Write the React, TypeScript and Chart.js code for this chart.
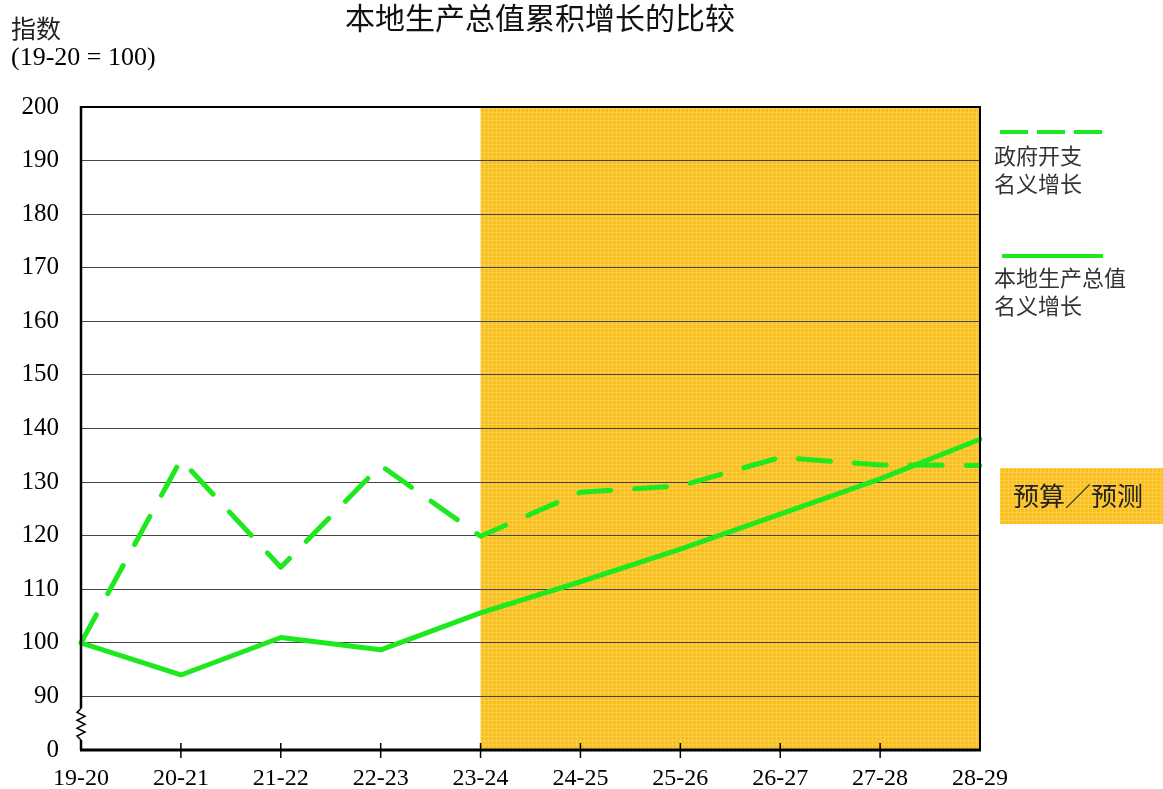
import React, { useEffect, useRef } from "react";
import { Chart, registerables } from "chart.js";

Chart.register(...registerables);

const categories = ["19-20", "20-21", "21-22", "22-23", "23-24", "24-25", "25-26", "26-27", "27-28", "28-29"];
const govSpending = [100, 134.2, 114.1, 133.1, 119.9, 128.1, 129.3, 134.6, 133.2, 133.1];
const gdpGrowth = [100, 94.0, 101.0, 98.7, 105.6, 111.4, 117.5, 124.0, 130.6, 138.0];
const yTicks = [80, 90, 100, 110, 120, 130, 140, 150, 160, 170, 180, 190, 200];
const forecastStartIndex = 4;

const GREEN = "#1ee81e";
const SERIF = "'Liberation Serif', 'Times New Roman', serif";
const CJK = "'Noto Sans CJK SC', 'Noto Sans', sans-serif";

function makePattern(ctx: CanvasRenderingContext2D) {
  const c = document.createElement("canvas");
  c.width = 4;
  c.height = 4;
  const p = c.getContext("2d")!;
  p.fillStyle = "#f8bf22";
  p.fillRect(0, 0, 4, 4);
  p.fillStyle = "rgba(255,214,90,0.6)";
  p.fillRect(0, 0, 4, 1);
  p.fillRect(0, 0, 1, 4);
  return ctx.createPattern(c, "repeat") || "#f9c535";
}

const decorPlugin = {
  id: "decor",
  beforeDraw(chart: any) {
    const { ctx, chartArea } = chart;
    const x = chart.scales.x;
    const x0 = x.getPixelForValue(forecastStartIndex);
    ctx.save();
    ctx.fillStyle = makePattern(ctx);
    ctx.fillRect(x0, chartArea.top, chartArea.right - x0, chartArea.bottom - chartArea.top);
    ctx.restore();
  },
  afterDraw(chart: any) {
    const { ctx, chartArea } = chart;
    const { left, right, top, bottom } = chartArea;
    const xs = chart.scales.x;
    const ys = chart.scales.y;
    ctx.save();
    ctx.strokeStyle = "#000";
    ctx.lineCap = "butt";
    ctx.lineWidth = 2;
    ctx.beginPath();
    ctx.moveTo(left, top);
    ctx.lineTo(right, top);
    ctx.lineTo(right, bottom);
    ctx.stroke();
    ctx.lineWidth = 3;
    ctx.beginPath();
    ctx.moveTo(left - 1, bottom);
    ctx.lineTo(right + 1, bottom);
    ctx.stroke();
    const y90 = ys.getPixelForValue(90);
    const zTop = y90 + 12;
    const zBot = bottom - 10;
    ctx.lineWidth = 2.5;
    ctx.beginPath();
    ctx.moveTo(left, top - 1);
    ctx.lineTo(left, zTop);
    ctx.stroke();
    ctx.lineWidth = 1.5;
    ctx.beginPath();
    ctx.moveTo(left, zTop);
    const n = 8;
    for (let i = 1; i <= n; i++) {
      const yy = zTop + ((zBot - zTop) * i) / n;
      const xx = i === n ? left : i % 2 === 1 ? left - 4 : left + 4;
      ctx.lineTo(xx, yy);
    }
    ctx.stroke();
    ctx.lineWidth = 2.5;
    ctx.beginPath();
    ctx.moveTo(left, zBot);
    ctx.lineTo(left, bottom);
    ctx.stroke();
    ctx.lineWidth = 1.5;
    for (let i = 1; i < categories.length - 1; i++) {
      const px = xs.getPixelForValue(i);
      ctx.beginPath();
      ctx.moveTo(px, bottom - 7);
      ctx.lineTo(px, bottom + 8);
      ctx.stroke();
    }

    ctx.fillStyle = "#111";
    ctx.textBaseline = "middle";
    ctx.textAlign = "center";
    ctx.font = `30px ${CJK}`;
    ctx.fillText("本地生产总值累积增长的比较", 540, 18);

    ctx.textAlign = "left";
    ctx.fillStyle = "#222";
    ctx.font = `25px ${CJK}`;
    ctx.fillText("指数", 11, 28);
    ctx.fillStyle = "#000";
    ctx.font = `26px ${SERIF}`;
    ctx.fillText("(19-20 = 100)", 11, 58);

    ctx.strokeStyle = GREEN;
    ctx.lineWidth = 4;
    ctx.setLineDash([28, 9]);
    ctx.beginPath();
    ctx.moveTo(1000, 132);
    ctx.lineTo(1103, 132);
    ctx.stroke();
    ctx.setLineDash([]);
    ctx.beginPath();
    ctx.moveTo(1002, 256);
    ctx.lineTo(1103, 256);
    ctx.stroke();
    ctx.fillStyle = "#333";
    ctx.font = `22px ${CJK}`;
    ctx.fillText("政府开支", 994, 156);
    ctx.fillText("名义增长", 994, 184);
    ctx.fillText("本地生产总值", 994, 278);
    ctx.fillText("名义增长", 994, 306);

    ctx.fillStyle = makePattern(ctx);
    ctx.fillRect(1000, 468, 163, 56);
    ctx.fillStyle = "#222";
    ctx.font = `26px ${CJK}`;
    ctx.textAlign = "center";
    ctx.fillText("预算／预测", 1078, 496);
    ctx.restore();
  },
};

export default function App() {
  const ref = useRef<HTMLCanvasElement | null>(null);
  useEffect(() => {
    if (!ref.current) return;
    const chart = new Chart(ref.current, {
      type: "line",
      data: {
        labels: categories,
        datasets: [
          {
            label: "政府开支名义增长",
            data: govSpending,
            borderColor: GREEN,
            borderWidth: 5,
            borderDash: [32, 24],
            borderCapStyle: "round",
            borderJoinStyle: "round",
            pointRadius: 0,
            tension: 0,
            fill: false,
          },
          {
            label: "本地生产总值名义增长",
            data: gdpGrowth,
            borderColor: GREEN,
            borderWidth: 5,
            borderCapStyle: "round",
            borderJoinStyle: "round",
            pointRadius: 0,
            tension: 0,
            fill: false,
          },
        ],
      },
      options: {
        animation: false,
        responsive: false,
        maintainAspectRatio: false,
        layout: { padding: { left: 0, top: 107, right: 183, bottom: 0 } },
        plugins: { legend: { display: false }, tooltip: { enabled: false }, title: { display: false } },
        scales: {
          x: {
            type: "category",
            offset: false,
            grid: { display: false },
            border: { display: false },
            ticks: {
              color: "#000",
              font: { family: SERIF, size: 24 },
              padding: 6,
              maxRotation: 0,
              autoSkip: false,
            },
            afterFit: (s: any) => {
              s.height = 39;
            },
          },
          y: {
            min: 80,
            max: 200,
            afterBuildTicks: (s: any) => {
              s.ticks = yTicks.map((v) => ({ value: v }));
            },
            grid: { color: "#444", lineWidth: 1, drawTicks: false },
            border: { display: false },
            ticks: {
              color: "#000",
              font: { family: SERIF, size: 25 },
              padding: 22,
              callback: (v: any) => (v === 80 ? "0" : String(v)),
            },
            afterFit: (s: any) => {
              s.width = 81;
            },
          },
        },
      },
      plugins: [decorPlugin],
    });
    return () => chart.destroy();
  }, []);
  return (
    <div style={{ position: "absolute", left: 0, top: 0, width: 1163, height: 789, background: "#fff" }}>
      <canvas ref={ref} width={1163} height={789} style={{ width: 1163, height: 789, display: "block" }} />
    </div>
  );
}
